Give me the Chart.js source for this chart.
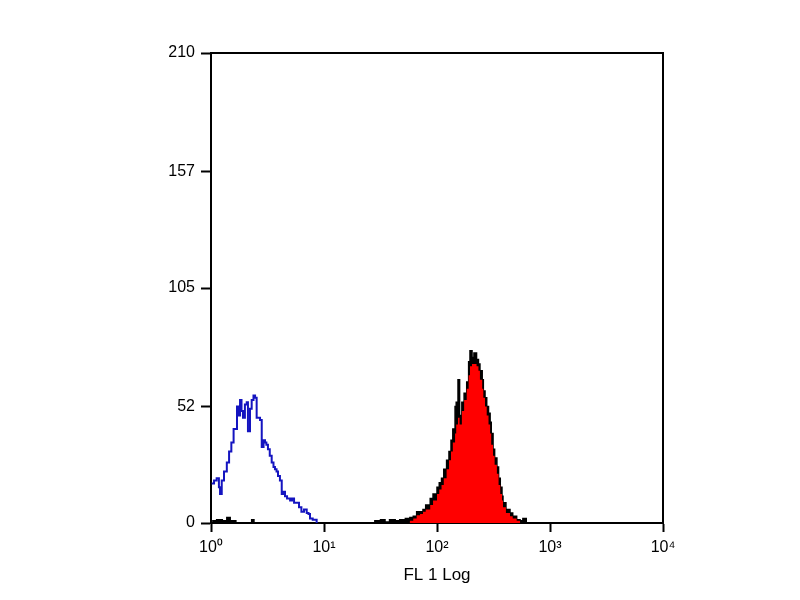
<!DOCTYPE html>
<html>
<head>
<meta charset="utf-8">
<script src="https://cdn.jsdelivr.net/npm/chart.js@4/dist/chart.umd.min.js"></script>
<style>
  body { margin: 0; background: #fff; }
</style>
</head>
<body>
<canvas id="chart" width="800" height="600"></canvas>
<script>
// x values are in decades (log10 of the FL1 channel)
const xTickLabels = ["10\u2070", "10\u00b9", "10\u00b2", "10\u00b3", "10\u2074"];
const yTicks = [0, 52, 105, 157, 210];

// control (blue outline)
const controlX = [0.006, 0.027, 0.05, 0.07, 0.08, 0.095, 0.115, 0.14, 0.16, 0.18, 0.2, 0.23, 0.24, 0.257, 0.27, 0.283, 0.3, 0.316, 0.327, 0.345, 0.36, 0.376, 0.39, 0.404, 0.42, 0.434, 0.449, 0.465, 0.478, 0.49, 0.504, 0.52, 0.537, 0.553, 0.566, 0.58, 0.593, 0.61, 0.626, 0.64, 0.655, 0.673, 0.7, 0.717, 0.735, 0.758, 0.779, 0.8, 0.823, 0.847, 0.863, 0.876, 0.9, 0.935];
const controlCounts = [17.7, 19, 20, 16, 13, 19, 23, 27, 32, 36, 42, 52, 48, 55, 50, 47, 53, 54, 41, 51, 55, 57, 56, 47, 47, 46, 34, 37, 36, 35, 33, 30, 27, 25, 24, 23, 21, 19, 13, 14, 12, 11, 10, 11, 9, 9, 7, 5, 6, 4.5, 4, 2, 1.5, 0];

// stained sample (black outline + red fill)
const sampleX = [0.01, 0.05, 0.1, 0.14, 0.17, 0.22, 0.36, 0.38, 1.45, 1.5, 1.54, 1.58, 1.63, 1.67, 1.72, 1.76, 1.79, 1.82, 1.85, 1.876, 1.9, 1.94, 1.965, 2.0, 2.02, 2.04, 2.06, 2.085, 2.106, 2.124, 2.14, 2.16, 2.17, 2.186, 2.2, 2.22, 2.24, 2.263, 2.28, 2.292, 2.31, 2.327, 2.35, 2.367, 2.38, 2.4, 2.41, 2.425, 2.44, 2.456, 2.47, 2.48, 2.496, 2.51, 2.53, 2.545, 2.56, 2.575, 2.584, 2.61, 2.646, 2.67, 2.705, 2.735, 2.76, 2.79];
const sampleCounts = [1, 1.5, 1, 2.5, 1, 0, 1.5, 0, 1, 1.5, 0.5, 1.5, 1, 1.5, 2, 2.5, 3, 5, 5, 6, 8, 11, 13, 16, 18, 20, 24, 28, 32, 37, 42, 52, 54, 64, 48, 54, 58, 63, 72, 77, 74, 76, 73, 71, 68, 64, 59, 56, 52, 49, 45, 40, 33, 29, 25, 20, 16, 12, 9, 6, 4.5, 3, 1.5, 1, 2, 0];
const sampleRed = [0, 0, 0, 0, 0, 0, 0, 0, 0, 0, 0, 0, 0, 0, 0, 1, 2, 3.5, 4, 5, 6, 8, 10, 13, 15, 17, 20, 24, 28, 32, 36, 40, 44, 47, 44, 50, 55, 60, 66, 70, 71, 71, 70, 68, 64, 60, 56, 52, 48, 44, 40, 35, 30, 26, 22, 17, 13, 10, 7, 4.5, 3, 2, 1, 0, 0, 0];

function pts(xs, ys) {
    return xs.map((x, i) => ({ x: x, y: ys[i] }));
}

const frame = {
    id: "frame",
    afterDraw(chart) {
        const a = chart.chartArea;
        const ctx = chart.ctx;
        ctx.save();
        ctx.strokeStyle = "#000";
        ctx.lineWidth = 2;
        ctx.beginPath();
        ctx.moveTo(a.left, a.top);
        ctx.lineTo(a.right, a.top);
        ctx.lineTo(a.right, a.bottom);
        ctx.stroke();
        ctx.restore();
    }
};

const font = { family: "'Liberation Sans', Arial, sans-serif", size: 16 };

new Chart(document.getElementById("chart"), {
    type: "line",
    data: {
        datasets: [
            {
                data: pts(sampleX, sampleRed),
                stepped: true,
                fill: "origin",
                backgroundColor: "#ff0000",
                borderWidth: 0,
                pointRadius: 0,
                order: 1
            },
            {
                data: pts(sampleX, sampleCounts),
                stepped: true,
                fill: "origin",
                backgroundColor: "#000",
                borderColor: "#000",
                borderWidth: 1.5,
                pointRadius: 0,
                order: 2
            },
            {
                data: pts(controlX, controlCounts),
                stepped: true,
                fill: false,
                borderColor: "#1414c0",
                borderWidth: 2,
                pointRadius: 0,
                order: 0
            }
        ]
    },
    options: {
        responsive: false,
        animation: false,
        devicePixelRatio: 1,
        layout: { padding: { top: 53, right: 137, bottom: 14, left: 0 } },
        plugins: { legend: { display: false }, tooltip: { enabled: false } },
        scales: {
            x: {
                type: "linear",
                min: 0,
                max: 4,
                afterBuildTicks: s => { s.ticks = [0, 1, 2, 3, 4].map(v => ({ value: v })); },
                afterFit: s => { s.height = 63; },
                ticks: {
                    color: "#000",
                    font: font,
                    padding: 6,
                    maxRotation: 0,
                    callback: v => xTickLabels[v]
                },
                grid: { drawOnChartArea: false, tickLength: 9, color: "#000", tickWidth: 2 },
                border: { color: "#000", width: 2 },
                title: { display: true, text: "FL 1 Log", color: "#000", font: { family: font.family, size: 17 }, padding: { top: 0, bottom: 0 } }
            },
            y: {
                min: 0,
                max: 210,
                afterBuildTicks: s => { s.ticks = yTicks.map(v => ({ value: v })); },
                afterFit: s => { s.width = 211; },
                ticks: { color: "#000", font: font, padding: 6 },
                grid: { drawOnChartArea: false, tickLength: 10, color: "#000", tickWidth: 2 },
                border: { color: "#000", width: 2 }
            }
        }
    },
    plugins: [frame]
});
</script>
</body>
</html>
